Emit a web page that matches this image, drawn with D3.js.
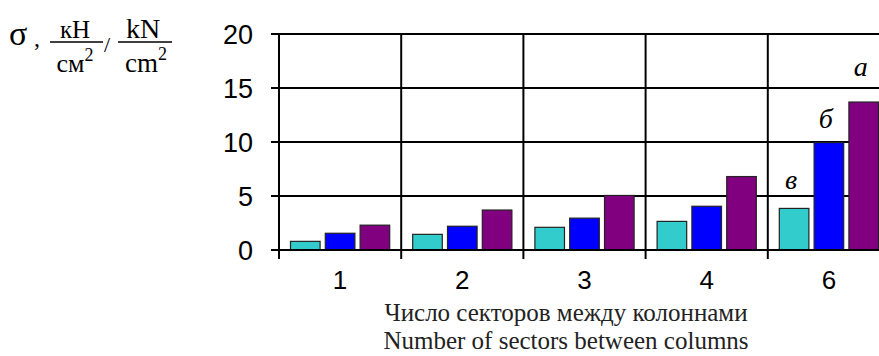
<!DOCTYPE html>
<html>
<head>
<meta charset="utf-8">
<script src="https://cdn.jsdelivr.net/npm/d3@7"></script>
<style>
  html, body { margin: 0; padding: 0; background: #fff; overflow: hidden; }
  svg { display: block; }
</style>
</head>
<body>
<svg id="chart" width="879" height="356"></svg>
<script>
// Sectors between columns
const categories = ["1", "2", "3", "4", "6"];
// Stress per series (в, б, а)
const seriesNames = ["в", "б", "а"];
const valuesV = [0.8, 1.45, 2.1, 2.65, 3.85];
const valuesB = [1.55, 2.2, 2.95, 4.05, 9.95];
const valuesA = [2.3, 3.7, 5.05, 6.8, 13.7];
const seriesColors = ["#33cccc", "#0000ff", "#800080"];
const yTicks = [0, 5, 10, 15, 20];
const xTitleRu = "Число секторов между колоннами";
const xTitleEn = "Number of sectors between columns";

const seriesValues = [valuesV, valuesB, valuesA];

const svg = d3.select("#chart");
const plotLeft = 279, plotTop = 34, plotBottom = 250, catW = 122.2;

const x = d3.scaleBand().domain(categories).range([plotLeft, plotLeft + catW * categories.length]).padding(0);
const xSub = d3.scaleBand().domain(seriesNames).range([11.5, 110.7]).paddingInner(0.15).paddingOuter(0);
const y = d3.scaleLinear().domain([0, 20]).range([plotBottom, plotTop]);

const plotRight = x.range()[1];

// horizontal grid lines (extend left as tick marks)
svg.append("g").selectAll("line").data(yTicks).join("line")
  .attr("x1", plotLeft - 8).attr("x2", plotRight)
  .attr("y1", d => y(d)).attr("y2", d => y(d))
  .attr("stroke", "#000").attr("stroke-width", 2);

// vertical category separators (extend below as tick marks)
const bounds = categories.map(c => x(c)).concat([plotRight]);
svg.append("g").selectAll("line").data(bounds).join("line")
  .attr("x1", d => d).attr("x2", d => d)
  .attr("y1", plotTop).attr("y2", plotBottom + 9)
  .attr("stroke", "#000").attr("stroke-width", 2);

// bars
const groups = svg.append("g").selectAll("g").data(seriesNames).join("g")
  .attr("fill", (d, i) => seriesColors[i]);
groups.each(function(s, si) {
  d3.select(this).selectAll("rect").data(categories).join("rect")
    .attr("x", c => x(c) + xSub(s))
    .attr("width", xSub.bandwidth())
    .attr("y", (c, ci) => y(seriesValues[si][ci]))
    .attr("height", (c, ci) => y(0) - y(seriesValues[si][ci]))
    .attr("stroke", "#222").attr("stroke-width", 1.2);
});

// redraw baseline over bar bottoms
svg.append("line").attr("x1", plotLeft - 8).attr("x2", plotRight)
  .attr("y1", y(0)).attr("y2", y(0)).attr("stroke", "#000").attr("stroke-width", 2);

const sans = "'Liberation Sans', Arial, sans-serif";
const serif = "'Liberation Serif', 'Times New Roman', serif";

// y tick labels
svg.append("g").selectAll("text").data(yTicks).join("text")
  .attr("x", 253).attr("y", d => y(d))
  .attr("dy", "0.36em")
  .attr("text-anchor", "end")
  .attr("font-family", sans)
  .attr("font-size", 27)
  .attr("fill", "#000")
  .text(d => d);

// x tick labels
svg.append("g").selectAll("text").data(categories).join("text")
  .attr("x", c => x(c) + x.bandwidth() / 2)
  .attr("y", 289)
  .attr("text-anchor", "middle")
  .attr("font-family", sans)
  .attr("font-size", 26)
  .attr("fill", "#000")
  .text(c => c);

// series letters above the last group
const lastCat = categories[categories.length - 1];
const letterLift = [19, 15, 26];
svg.append("g").selectAll("text").data(seriesNames).join("text")
  .attr("x", (s, i) => x(lastCat) + xSub(s) + xSub.bandwidth() / 2 - 3)
  .attr("y", (s, i) => y(seriesValues[i][categories.length - 1]) - letterLift[i])
  .attr("text-anchor", "middle")
  .attr("font-family", serif)
  .attr("font-style", "italic")
  .attr("font-size", 28)
  .attr("fill", "#000")
  .text(s => s);

// x axis title
svg.append("text").attr("x", 566).attr("y", 321)
  .attr("text-anchor", "middle").attr("font-family", serif).attr("font-size", 25)
  .attr("fill", "#222").text(xTitleRu);
svg.append("text").attr("x", 566).attr("y", 349)
  .attr("text-anchor", "middle").attr("font-family", serif).attr("font-size", 25)
  .attr("fill", "#222").text(xTitleEn);

// y axis title: σ, кН/см² / kN/cm²
const yt = svg.append("g").attr("font-family", serif).attr("fill", "#000");
yt.append("text").attr("x", 9).attr("y", 45).attr("font-size", 34).text("σ");
yt.append("text").attr("x", 34).attr("y", 46).attr("font-size", 24).text(",");
// first fraction
yt.append("text").attr("x", 75).attr("y", 38).attr("text-anchor", "middle").attr("font-size", 25).text("кН");
yt.append("line").attr("x1", 50).attr("x2", 103).attr("y1", 42).attr("y2", 42).attr("stroke", "#000").attr("stroke-width", 1.5);
const d1 = yt.append("text").attr("x", 75).attr("y", 72).attr("text-anchor", "middle").attr("font-size", 26);
d1.append("tspan").text("см");
d1.append("tspan").attr("dy", -11).attr("font-size", 18).text("2");
yt.append("text").attr("x", 104).attr("y", 52).attr("font-size", 22).text("/");
// second fraction
yt.append("text").attr("x", 143).attr("y", 38).attr("text-anchor", "middle").attr("font-size", 28).text("kN");
yt.append("line").attr("x1", 118).attr("x2", 172).attr("y1", 42).attr("y2", 42).attr("stroke", "#000").attr("stroke-width", 1.5);
const d2 = yt.append("text").attr("x", 146).attr("y", 72).attr("text-anchor", "middle").attr("font-size", 27);
d2.append("tspan").text("cm");
d2.append("tspan").attr("dy", -12).attr("font-size", 18).text("2");
</script>
</body>
</html>
